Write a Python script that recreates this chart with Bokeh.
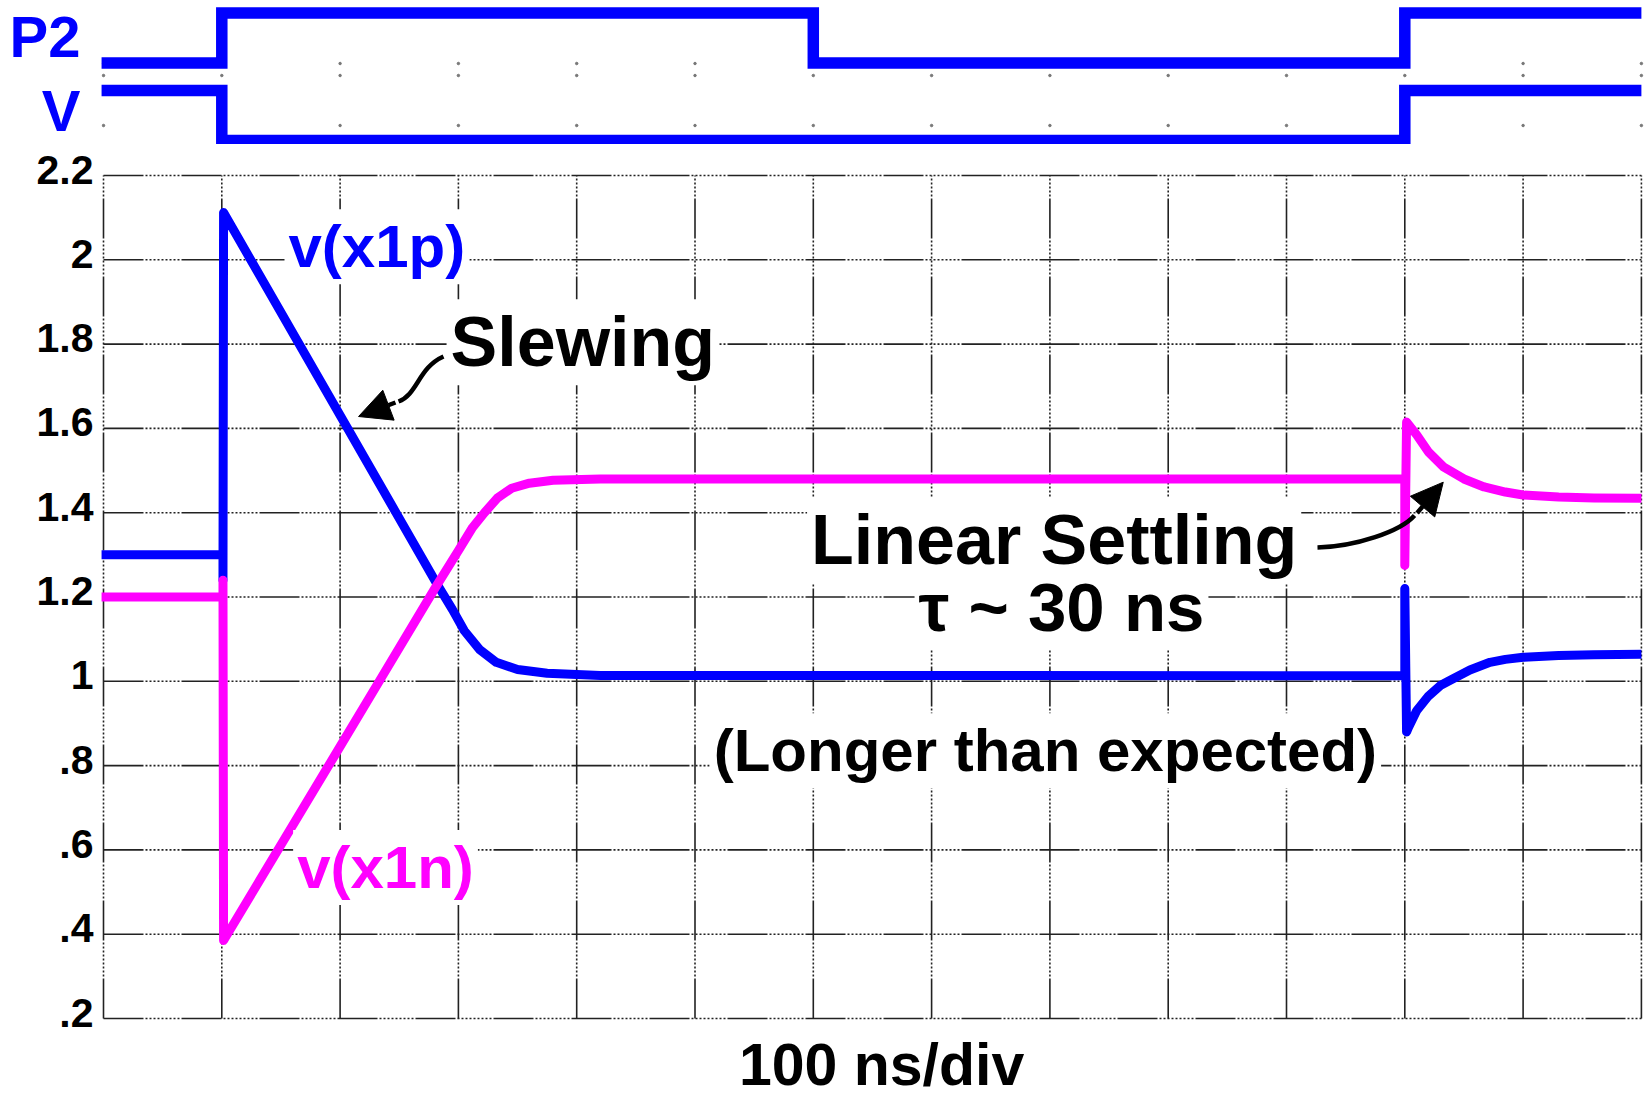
from bokeh.plotting import figure
from bokeh.models import Range1d, FixedTicker, LinearAxis, Label, Arrow, NormalHead
from bokeh.layouts import column
from bokeh.embed import file_html
from bokeh.resources import INLINE

# ---------------- data ----------------
# digital control signals (time in ns)
t_edges = [-2, 100, 600, 1100, 1300]
p2_state = [0, 1, 0, 1, 1]
v_state = [1, 0, 0, 1, 1]

# v(x1p) - blue
t_x1p = [-2, 101, 101, 101.5, 208, 245, 281, 295, 305, 318, 332, 350, 375, 420,
         1100, 1100, 1101.5, 1103, 1110, 1120, 1130, 1140, 1155, 1172, 1185, 1200,
         1230, 1260, 1300]
v_x1p = [1.30, 1.30, 1.24, 2.112, 1.592, 1.411, 1.235, 1.17, 1.12, 1.075, 1.045, 1.028,
         1.019, 1.014, 1.013, 1.22, 0.88, 0.89, 0.93, 0.965, 0.99, 1.005, 1.027, 1.045,
         1.052, 1.057, 1.061, 1.063, 1.064]

# v(x1n) - magenta
t_x1n = [-2, 101, 101, 101.5, 195, 235, 280, 300, 312, 322, 333, 345, 360, 380, 420,
         1100, 1100, 1101.5, 1110, 1120, 1133, 1150, 1167, 1185, 1200, 1230, 1260, 1300]
v_x1n = [1.20, 1.20, 1.24, 0.385, 0.822, 1.009, 1.22, 1.31, 1.365, 1.40, 1.435, 1.458,
         1.470, 1.477, 1.48, 1.48, 1.275, 1.615, 1.585, 1.544, 1.508, 1.48, 1.461, 1.449,
         1.442, 1.437, 1.435, 1.434]

x_ticks = [0, 100, 200, 300, 400, 500, 600, 700, 800, 900, 1000, 1100, 1200, 1300]
y_ticks = [0.2, 0.4, 0.6, 0.8, 1.0, 1.2, 1.4, 1.6, 1.8, 2.0, 2.2]
y_labels = [".2", ".4", ".6", ".8", "1", "1.2", "1.4", "1.6", "1.8", "2", "2.2"]

lane_ticks = [0.6, 2.08]          # logic lanes (V, P2)
lane_labels = ["V", "P2"]
dot_levels = [1.54, 1.30, 0.30]   # faint grid dots of the logic area

# ---------------- layout / style ----------------
FONT = "Liberation Sans"
BLUE = "#0000FF"
MAG = "#FF00FF"
GRID = "#222222"
W = 1644
TOP_H = 144
MAIN_H = 1098 - TOP_H
LEFT = 101            # frame left of both plots
MAIN_TOP = 163 - TOP_H
ORIGIN_X = 103.0      # page x of t = 0
PX_PER_NS = 118.3 / 100.0
PX_PER_V = 421.5

xr = Range1d((LEFT - ORIGIN_X) / PX_PER_NS, (W - ORIGIN_X) / PX_PER_NS)
frame_h = MAIN_H - MAIN_TOP
ye = 2.2 + 12.0 / PX_PER_V
yr = Range1d(ye - frame_h / PX_PER_V, ye)
d_lab = 6.0 / PX_PER_V

grid_dash = " ".join(str(v) for v in ([40, 2] + [2, 2] * 9))

def no_ticks(axis, standoff, size, color):
    axis.axis_line_color = None
    axis.major_tick_line_color = None
    axis.minor_tick_line_color = None
    axis.major_tick_in = 0
    axis.major_tick_out = 0
    axis.major_label_standoff = standoff
    axis.major_label_text_font = FONT
    axis.major_label_text_font_style = "bold"
    axis.major_label_text_font_size = size
    axis.major_label_text_color = color

# ---------------- top: logic traces ----------------
top = figure(width=W, height=TOP_H, x_range=xr, y_range=Range1d(-0.08, 2.8),
             x_axis_type=None, y_axis_type=None, toolbar_location=None,
             output_backend="svg", min_border_left=LEFT, min_border_right=0,
             min_border_top=0, min_border_bottom=0, outline_line_color=None,
             background_fill_color="white", border_fill_color="white")

for lvl in dot_levels:
    top.scatter(x_ticks, [lvl] * len(x_ticks), size=2.5, color="#777777", marker="circle")

top.step(t_edges, [s + 1.55 for s in p2_state], mode="after", line_color=BLUE,
         line_width=11.5, line_join="miter")
top.step(t_edges, v_state, mode="after", line_color=BLUE, line_width=11.5,
         line_join="miter")

lane_axis = LinearAxis(ticker=FixedTicker(ticks=lane_ticks),
                       major_label_overrides=dict(zip(lane_ticks, lane_labels)))
no_ticks(lane_axis, 21, "58px", BLUE)
top.add_layout(lane_axis, "left")

# ---------------- main analog plot ----------------
p = figure(width=W, height=MAIN_H, x_range=xr, y_range=yr,
           x_axis_type=None, y_axis_type=None, toolbar_location=None,
           output_backend="svg", min_border_left=LEFT, min_border_right=0,
           min_border_top=MAIN_TOP, min_border_bottom=0,
           outline_line_color=None, background_fill_color="white",
           border_fill_color="white")
p.extra_y_ranges = {"lab": Range1d(yr.start - d_lab, yr.end - d_lab)}

# grid (0.2 .. 2.2 V, 0 .. 1300 ns)
nx, ny = len(x_ticks), len(y_ticks)
p.segment(x0=x_ticks, y0=[y_ticks[0]] * nx, x1=x_ticks, y1=[y_ticks[-1]] * nx,
          line_color=GRID, line_width=1.6, line_dash=grid_dash)
p.segment(x0=[x_ticks[0]] * ny, y0=y_ticks, x1=[x_ticks[-1]] * ny, y1=y_ticks,
          line_color=GRID, line_width=1.6, line_dash=grid_dash)

yaxis = LinearAxis(y_range_name="lab", ticker=FixedTicker(ticks=y_ticks),
                   major_label_overrides=dict(zip(y_ticks, y_labels)))
no_ticks(yaxis, 8, "41px", "black")
p.add_layout(yaxis, "left")

p.line(t_x1p, v_x1p, line_color=BLUE, line_width=9, line_join="round")
p.line(t_x1n, v_x1n, line_color=MAG, line_width=9, line_join="round")

# annotation arrows
p.bezier(x0=[287.4, 1026.2], y0=[1.7706, 1.3174], x1=[249.4, 1108.2], y1=[1.6638, 1.3934],
         cx0=[266.3, 1058.3], cy0=[1.7445, 1.3198], cx1=[265.4, 1096.4], cy1=[1.6804, 1.3554],
         line_color="black", line_width=4.5)
for (sx0, sy0, ex, ey) in ((246.8, 1.6614, 215.6, 1.6282), (1110.4, 1.3993, 1132.5, 1.4724)):
    p.add_layout(Arrow(x_start=sx0, y_start=sy0, x_end=ex, y_end=ey,
                       line_color="black", line_width=4.5,
                       end=NormalHead(size=32, fill_color="black", line_color="black",
                                      line_width=1)))

def lab(x, y, text, size, color="black", align="left"):
    p.add_layout(Label(x=x, y=y, text=text, text_font=FONT, text_font_style="bold",
                       text_font_size=size, text_color=color, text_align=align,
                       text_baseline="middle", background_fill_color="white",
                       padding=4))

lab(153.0, 2.031, "v(x1p)", "60px", BLUE)
lab(160.3, 0.558, "v(x1n)", "60px", MAG)
lab(290.0, 1.8045, "Slewing", "70px")
lab(803.6, 1.3348, "Linear Settling", "70px", align="center")
lab(809.8, 1.1749, "\u03c4 ~ 30 ns", "69px", align="center")
lab(796.2, 0.8353, "(Longer than expected)", "60px", align="center")

p.add_layout(Label(x=657.7, y=34, y_units="screen", text="100 ns/div", text_font=FONT,
                   text_font_style="bold", text_font_size="59px", text_color="black",
                   text_align="center", text_baseline="middle"))

layout = column(top, p, spacing=0)
open("out.html", "w").write(file_html(layout, INLINE))
